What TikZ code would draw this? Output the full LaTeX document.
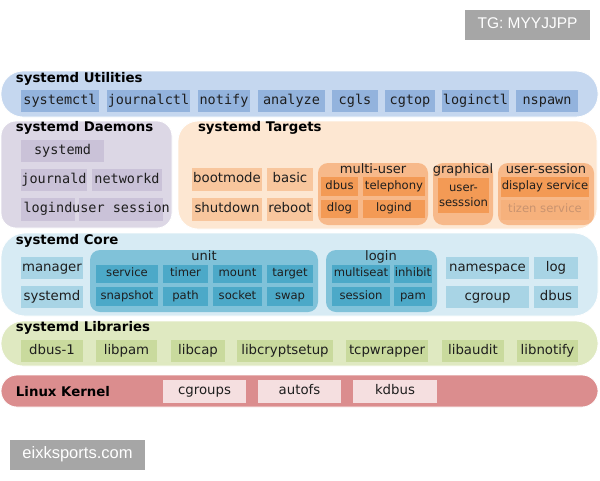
\documentclass[tikz,border=0pt]{standalone}
\usepackage{fontspec}
\setmainfont{DejaVu Sans}
\setmonofont{DejaVu Sans Mono}
\newfontfamily\wmfont{Liberation Sans}
\definecolor{bandU}{HTML}{C5D7EF}\definecolor{itemU}{HTML}{93B3DD}
\definecolor{bandD}{HTML}{DCD7E5}\definecolor{itemD}{HTML}{CAC2D8}
\definecolor{bandT}{HTML}{FDE7D2}\definecolor{itemT}{HTML}{F8C69D}
\definecolor{groupT}{HTML}{F7B98A}\definecolor{innerT}{HTML}{F39A55}
\definecolor{tizenF}{HTML}{F6B17C}\definecolor{tizenT}{HTML}{C9936F}
\definecolor{bandC}{HTML}{D7EBF4}\definecolor{itemC}{HTML}{A8D4E5}
\definecolor{groupC}{HTML}{80C2D9}\definecolor{innerC}{HTML}{4CA9C8}
\definecolor{bandL}{HTML}{DFE9C1}\definecolor{itemL}{HTML}{C9DA9D}
\definecolor{bandK}{HTML}{DB8D8E}\definecolor{itemK}{HTML}{F5DFE0}
\definecolor{wmgray}{HTML}{A6A6A6}\definecolor{txt}{HTML}{1E1E1E}
\newcommand\bx[7]{\node[#2, minimum width={#5-(#3)}, minimum height={#6-(#4)}] (#1) at ({(#3+#5)/2},{(#4+#6)/2}) {#7};}
\tikzset{
  base/.style={inner sep=0pt, outer sep=0pt, text=txt},
  big/.style={text height=9.8pt, text depth=3.2pt},
  little/.style={text height=8.6pt, text depth=2.8pt},
  band/.style={base, draw=white, line width=0.8pt, rounded corners=#1},
  title/.style={base, big, anchor=west, text=black, font=\bfseries\fontsize{13.3}{15}\selectfont},
  mono/.style={base, big, fill=#1, font=\ttfamily\fontsize{13.5}{16}\selectfont},
  sans/.style={base, big, fill=#1, font=\fontsize{13.3}{15}\selectfont},
  small/.style={base, little, fill=#1, font=\fontsize{11.6}{13}\selectfont},
  group/.style={base, fill=#1, rounded corners=10pt},
  glabel/.style={base, big, font=\fontsize{13}{15}\selectfont},
  wm/.style={base, fill=wmgray, text=white, text height=11.2pt, text depth=3.4pt, font=\wmfont\fontsize{15.5}{17}\selectfont}
}
\begin{document}
\begin{tikzpicture}[x=1pt,y=-1pt]
\useasboundingbox[fill=white] (0,0) rectangle (600,480);
% watermarks
\bx{wmA}{wm}{465}{10}{590}{40}{TG: MYYJJPP}
\bx{wmB}{wm, font=\wmfont\fontsize{16.5}{18}\selectfont}{10}{440}{145}{470}{eixksports.com}
% Utilities
\bx{util}{band=22pt, fill=bandU}{1}{71}{598}{117}{}
\node[title] (utilT) at (16,79.5) {systemd Utilities};
\bx{u1}{mono=itemU}{21}{90}{99}{112}{systemctl}
\bx{u2}{mono=itemU}{107}{90}{190}{112}{journalctl}
\bx{u3}{mono=itemU}{198}{90}{250}{112}{notify}
\bx{u4}{mono=itemU}{258}{90}{325}{112}{analyze}
\bx{u5}{mono=itemU}{332}{90}{378}{112}{cgls}
\bx{u6}{mono=itemU}{385}{90}{435}{112}{cgtop}
\bx{u7}{mono=itemU}{442}{90}{509}{112}{loginctl}
\bx{u8}{mono=itemU}{516}{90}{578}{112}{nspawn}
% Daemons
\bx{daem}{band=15pt, fill=bandD}{1}{121}{172}{228}{}
\node[title] (daemT) at (16,128.5) {systemd Daemons};
\bx{d1}{mono=itemD}{21}{140}{104}{162}{systemd}
\bx{d2}{mono=itemD}{21}{169}{87}{191}{journald}
\bx{d3}{mono=itemD}{92}{169}{162}{191}{networkd}
\bx{d4}{mono=itemD}{21}{198}{75}{221}{logind}
\bx{d5}{mono=itemD}{79}{198}{163}{221}{}
\node[base, big, font=\ttfamily\fontsize{13.5}{16}\selectfont] (d5t) at (d5.center) {user session};
% Targets
\bx{targ}{band=20pt, fill=bandT}{178}{121}{597}{229}{}
\node[title] (targT) at (198,128.5) {systemd Targets};
\bx{t1}{sans=itemT}{192}{168}{262}{191}{bootmode}
\bx{t2}{sans=itemT}{267}{168}{313}{191}{basic}
\bx{t3}{sans=itemT}{192}{198}{262}{221}{shutdown}
\bx{t4}{sans=itemT}{267}{198}{313}{221}{reboot}
\bx{gmu}{group=groupT}{318}{163}{428}{225}{}
\node[glabel] (gmuL) at (373,170) {multi-user};
\bx{m1}{small=innerT}{321}{177}{358}{196}{dbus}
\bx{m2}{small=innerT}{363}{177}{425}{196}{telephony}
\bx{m3}{small=innerT}{321}{200}{358}{218}{dlog}
\bx{m4}{small=innerT}{363}{200}{425}{218}{logind}
\bx{ggr}{group=groupT}{433}{163}{493}{225}{}
\node[glabel] (ggrL) at (463,170) {graphical};
\bx{g1}{small=innerT, text height={}, text depth={}, align=center, font=\fontsize{11.6}{15}\selectfont}{438}{178}{489}{213}{user-\\sesssion}
\bx{gus}{group=groupT}{498}{163}{594}{225}{}
\node[glabel] (gusL) at (546,170) {user-session};
\bx{s1}{small=innerT}{501}{177}{589}{197}{display service}
\bx{s2}{small=tizenF, text=tizenT}{501}{200}{589}{220}{tizen service}
% Core
\bx{core}{band=24pt, fill=bandC}{1}{233}{598}{316}{}
\node[title] (coreT) at (16,241.5) {systemd Core};
\bx{c1}{sans=itemC}{21}{257}{83}{279}{manager}
\bx{c2}{sans=itemC}{21}{286}{83}{308}{systemd}
\bx{gun}{group=groupC}{90}{250}{318}{312}{}
\node[glabel] (gunL) at (204,257) {unit};
\bx{n1}{small=innerC}{96}{265}{158}{283}{service}
\bx{n2}{small=innerC}{163}{265}{208}{283}{timer}
\bx{n3}{small=innerC}{213}{265}{262}{283}{mount}
\bx{n4}{small=innerC}{267}{265}{313}{283}{target}
\bx{n5}{small=innerC}{96}{287}{158}{306}{snapshot}
\bx{n6}{small=innerC}{163}{287}{208}{306}{path}
\bx{n7}{small=innerC}{213}{287}{262}{306}{socket}
\bx{n8}{small=innerC}{267}{287}{313}{306}{swap}
\bx{glo}{group=groupC}{326}{250}{437}{312}{}
\node[glabel] (gloL) at (381,257) {login};
\bx{l1}{small=innerC}{332}{265}{390}{283}{multiseat}
\bx{l2}{small=innerC}{394}{265}{432}{283}{inhibit}
\bx{l3}{small=innerC}{332}{287}{390}{306}{session}
\bx{l4}{small=innerC}{394}{287}{432}{306}{pam}
\bx{c3}{sans=itemC}{446}{257}{529}{279}{namespace}
\bx{c4}{sans=itemC}{534}{257}{578}{279}{log}
\bx{c5}{sans=itemC}{446}{286}{529}{308}{cgroup}
\bx{c6}{sans=itemC}{534}{286}{578}{308}{dbus}
% Libraries
\bx{libs}{band=22pt, fill=bandL}{1}{321}{598}{366}{}
\node[title] (libsT) at (16,328) {systemd Libraries};
\bx{b1}{sans=itemL}{21}{340}{83}{362}{dbus-1}
\bx{b2}{sans=itemL}{96}{340}{157}{362}{libpam}
\bx{b3}{sans=itemL}{171}{340}{225}{362}{libcap}
\bx{b4}{sans=itemL}{237}{340}{333}{362}{libcryptsetup}
\bx{b5}{sans=itemL}{346}{340}{428}{362}{tcpwrapper}
\bx{b6}{sans=itemL}{442}{340}{504}{362}{libaudit}
\bx{b7}{sans=itemL}{517}{340}{578}{362}{libnotify}
% Kernel
\bx{kern}{band=16pt, fill=bandK}{1}{375}{598}{407}{}
\node[title] (kernT) at (16,393.5) {Linux Kernel};
\bx{k1}{sans=itemK}{163}{380}{246}{403}{cgroups}
\bx{k2}{sans=itemK}{258}{380}{341}{403}{autofs}
\bx{k3}{sans=itemK}{353}{380}{437}{403}{kdbus}
\end{tikzpicture}
\end{document}
